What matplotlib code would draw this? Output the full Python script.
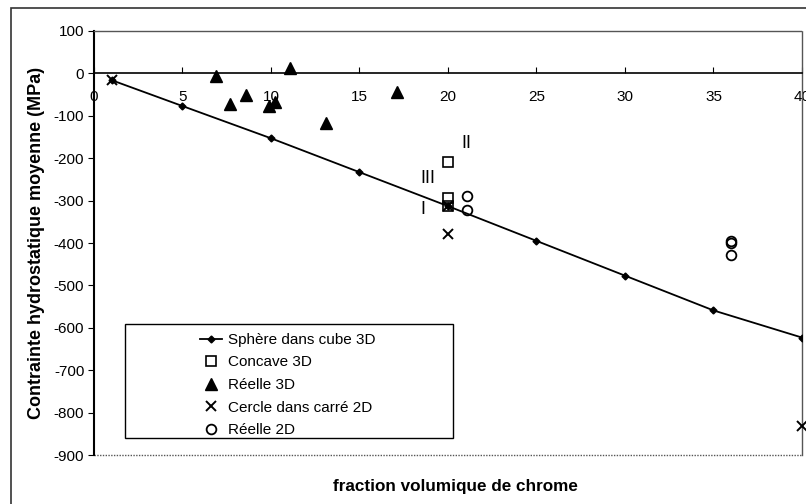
import matplotlib.pyplot as plt
from matplotlib.patches import Rectangle

plt.rcParams['font.family'] = ['Liberation Sans', 'DejaVu Sans']
plt.rcParams['axes.unicode_minus'] = False

# Données
sphere_x = [1, 5, 10, 15, 20, 25, 30, 35, 40]
sphere_y = [-16, -77, -153, -233, -313, -395, -477, -559, -623]

concave_x = [20, 20, 20]
concave_y = [-208, -295, -312]

reelle3d_x = [6.9, 7.7, 8.6, 9.9, 10.2, 11.1, 13.1, 17.1]
reelle3d_y = [-5, -73, -51, -77, -68, 12, -118, -45]

cercle_x = [1, 20, 20, 40]
cercle_y = [-16, -312, -379, -831]

reelle2d_x = [21.1, 21.1, 36, 36, 36]
reelle2d_y = [-288, -322, -395, -401, -428]

annot_text = ['I', 'II', 'III']
annot_x = [18.6, 21.05, 18.85]
annot_y = [-320, -165, -249]

xticks = [0, 5, 10, 15, 20, 25, 30, 35, 40]
yticks = [100, 0, -100, -200, -300, -400, -500, -600, -700, -800, -900]

fig = plt.figure(figsize=(8.06, 5.04), dpi=100)
ax = fig.add_axes([0.1166, 0.0972, 0.8784, 0.8413])

# cadre extérieur du graphique
fig.patches.append(Rectangle((11 / 806, -0.05), 1.0, 1 - 8 / 504 + 0.05,
                             transform=fig.transFigure, fill=False,
                             edgecolor='#333333', linewidth=1.2))

ax.plot(sphere_x, sphere_y, color='black', lw=1.3, marker='D', ms=3.5,
        label='Sphère dans cube 3D', zorder=3)
ax.plot(concave_x, concave_y, ls='none', marker='s', ms=7, mfc='none',
        mec='black', mew=1.2, label='Concave 3D', zorder=4)
ax.plot(reelle3d_x, reelle3d_y, ls='none', marker='^', ms=8, color='black',
        label='Réelle 3D', zorder=4)
ax.plot(cercle_x, cercle_y, ls='none', marker='x', ms=7, mec='black',
        mew=1.4, label='Cercle dans carré 2D', zorder=4, clip_on=False)
ax.plot(reelle2d_x, reelle2d_y, ls='none', marker='o', ms=7, mfc='none',
        mec='black', mew=1.3, label='Réelle 2D', zorder=4)

for t, x, y in zip(annot_text, annot_x, annot_y):
    ax.text(x, y, t, fontsize=13, ha='center', va='center')

ax.set_xlim(0, 40)
ax.set_ylim(-900, 100)
ax.set_xticks(xticks)
ax.set_yticks(yticks)
ax.tick_params(axis='x', direction='in', length=4, pad=12, labelsize=11)
ax.tick_params(axis='y', direction='out', length=4, pad=3, labelsize=11)

ax.spines['bottom'].set_position(('data', 0))
ax.spines['bottom'].set_linewidth(1.2)
ax.spines['left'].set_linewidth(1.5)
for s in ['top', 'right']:
    ax.spines[s].set_linestyle((0, (1, 1)))
    ax.spines[s].set_color('#555555')
    ax.spines[s].set_linewidth(1.0)
ax.axhline(-900, color='#555555', lw=1.0, ls=(0, (1, 1)), clip_on=False)

ax.set_ylabel('Contrainte hydrostatique moyenne (MPa)', fontsize=13,
              fontweight='bold', labelpad=6)
fig.text(455 / 806, 1 - 486 / 504, 'fraction volumique de chrome',
         fontsize=12.3, fontweight='bold', ha='center', va='center')

# boîte de légende
ax.add_patch(Rectangle((0.044, 0.039), 0.463, 0.27, transform=ax.transAxes,
                       fill=False, edgecolor='black', lw=1.0, zorder=5))
ax.legend(loc='upper left', bbox_to_anchor=(0.15, 0.288), frameon=False,
          fontsize=11, borderpad=0, borderaxespad=0, handlelength=1.45,
          handletextpad=0.35, labelspacing=0.56, numpoints=1)

fig.savefig('out.png', dpi=100)
